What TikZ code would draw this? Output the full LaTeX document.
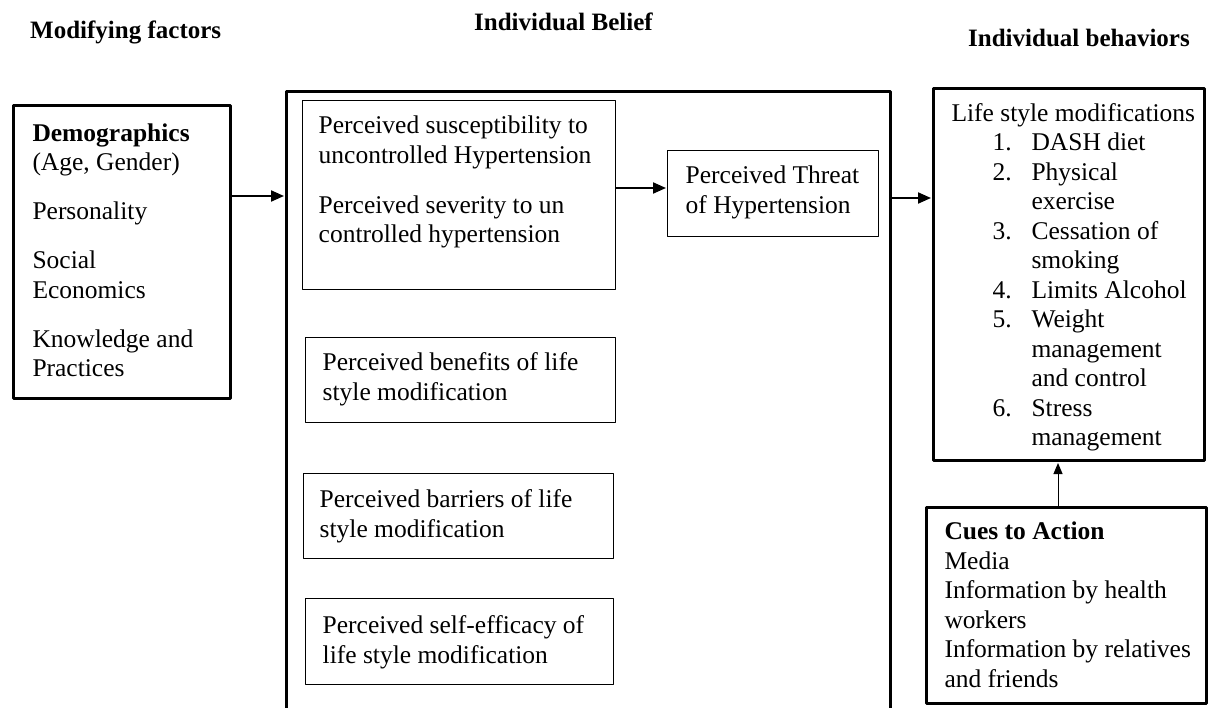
\documentclass[tikz,border=0pt]{standalone}
\usepackage{fontspec}
\setmainfont{Liberation Serif}
\usetikzlibrary{positioning,arrows.meta}

% text block of a box: width, height, left pad, first baseline, lines
\newcommand{\panel}[5]{%
  \begin{minipage}[c][#2][t]{#1}%
  \raggedright\setlength{\leftskip}{#3}\setlength{\rightskip}{-30pt plus 1fil}%
  \vspace*{\dimexpr#4-20pt\relax}\rule{0pt}{20pt}#5%
  \end{minipage}}
\newcommand{\listitem}[2]{\hspace*{41pt}\makebox[39pt][l]{#1}#2}
\newcommand{\listmore}[1]{\hspace*{80pt}#1}

\begin{document}
\begin{tikzpicture}[x=1pt,y=-1pt, line cap=round, line join=round,
  font=\fontsize{25.5}{29.5}\selectfont,
  thickbox/.style={draw, line width=3pt, inner sep=0pt, anchor=north west},
  thinbox/.style={draw, line width=1.4pt, inner sep=0pt, anchor=north west},
  head/.style={inner sep=0pt, font=\fontsize{25}{30}\selectfont\bfseries},
  arr/.style={line width=2pt, -{Triangle[length=13pt,width=11pt]}, shorten >=1pt},
  thinarr/.style={line width=1pt, -{Triangle[length=11pt,width=9pt]}, shorten >=1pt}]
\useasboundingbox (0,0) rectangle (1209,708);
\clip (0,0) rectangle (1209,708);

% Headings
\node[head, anchor=base west] (modTitle) at (30,39) {Modifying factors};
\node[head, anchor=base west] (beliefTitle) at (474,31) {Individual Belief};
\node[head, anchor=base west] (behavTitle) at (968,47) {Individual behaviors};

% Modifying factors
\node[thickbox] (demo) at (12,104) {\panel{217pt}{293pt}{19pt}{36pt}{%
  \textbf{Demographics}\\(Age, Gender)\\[19.5pt]Personality\\[19.5pt]%
  Social\\Economics\\[19.5pt]Knowledge and\\Practices}};

% Individual belief
\node[thickbox, minimum width=604pt, minimum height=640pt] (belief) at (285,90) {};
\node[thinbox] (sus) at (302,100) {\panel{313pt}{189pt}{16pt}{33pt}{%
  Perceived susceptibility to\\uncontrolled Hypertension\\[20.5pt]%
  Perceived severity to un\\controlled hypertension}};
\node[thinbox] (threat) at (667,150) {\panel{211pt}{86pt}{18pt}{33pt}{%
  Perceived Threat\\of Hypertension}};
\node[thinbox] (benefit) at (305,337) {\panel{310pt}{85pt}{17pt}{33pt}{%
  Perceived benefits of life\\style modification}};
\node[thinbox] (barrier) at (303,473) {\panel{310pt}{85pt}{16pt}{34pt}{%
  Perceived barriers of life\\style modification}};
\node[thinbox] (efficacy) at (305,598) {\panel{308pt}{86pt}{17pt}{35pt}{%
  Perceived self-efficacy of\\life style modification}};

% Individual behaviors
\node[thickbox] (behav) at (932,87) {\panel{271pt}{372pt}{18pt}{33pt}{%
  Life style modifications\\
  \listitem{1.}{DASH diet}\\
  \listitem{2.}{Physical}\\\listmore{exercise}\\
  \listitem{3.}{Cessation of}\\\listmore{smoking}\\
  \listitem{4.}{Limits Alcohol}\\
  \listitem{5.}{Weight}\\\listmore{management}\\\listmore{and control}\\
  \listitem{6.}{Stress}\\\listmore{management}}};
\node[thickbox] (cues) at (925,506) {\panel{280pt}{196pt}{18pt}{32pt}{%
  \textbf{Cues to Action}\\Media\\Information by health\\workers\\
  Information by relatives\\and friends}};

% Arrows
\coordinate (rowA) at (0,196);
\coordinate (rowB) at (0,188);
\coordinate (rowC) at (0,198);
\coordinate (colD) at (1058,0);
\draw[arr] (demo.east |- rowA) -- (belief.west |- rowA);
\draw[arr] (sus.east |- rowB) -- (threat.west |- rowB);
\draw[arr] (belief.east |- rowC) -- (behav.west |- rowC);
\draw[thinarr] (cues.north -| colD) -- (behav.south -| colD);
\end{tikzpicture}
\end{document}
